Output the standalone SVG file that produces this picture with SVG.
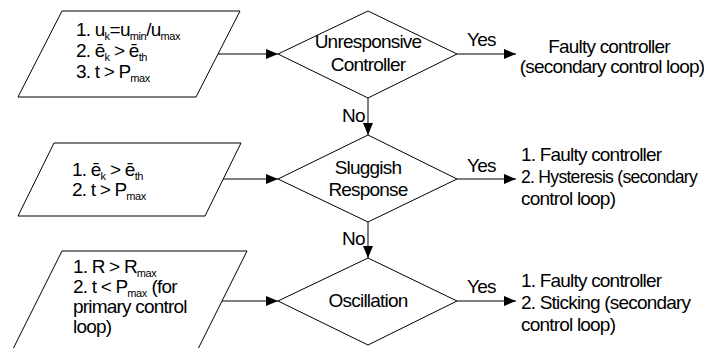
<svg xmlns="http://www.w3.org/2000/svg" width="704" height="348" viewBox="0 0 704 348">
<defs>
<marker id="arr" markerUnits="userSpaceOnUse" markerWidth="12" markerHeight="10" refX="12" refY="5" orient="auto">
<path d="M0,0 L12,5 L0,10 Z" fill="#000"/>
</marker>
<style>
.s{fill:#fff;stroke:#000;stroke-width:1}
.c{fill:none;stroke:#000;stroke-width:1;marker-end:url(#arr)}
text{font-family:"Liberation Sans",Arial,sans-serif;font-size:19px;letter-spacing:-0.8px;fill:#000}
.m{text-anchor:middle}
.sb{font-size:11px;letter-spacing:-0.4px}
</style>
</defs>
<rect width="704" height="348" fill="#fff"/>
<g id="input1">
<path class="s" d="M62,11 H240 L196,97 H18 Z"/>
<text x="76" y="36">1. u<tspan class="sb" dy="4">k</tspan><tspan dy="-4">=u</tspan><tspan class="sb" dy="4">min</tspan><tspan dy="-4">/u</tspan><tspan class="sb" dy="4">max</tspan></text>
<text x="76" y="57">2. ē<tspan class="sb" dy="4">k</tspan><tspan dy="-4"> &gt; ē</tspan><tspan class="sb" dy="4">th</tspan></text>
<text x="76" y="78">3. t &gt; P<tspan class="sb" dy="4">max</tspan></text>
</g>
<g id="input2">
<path class="s" d="M54,143 H241 L205,216 H18 Z"/>
<text x="72" y="176">1. ē<tspan class="sb" dy="4">k</tspan><tspan dy="-4"> &gt; ē</tspan><tspan class="sb" dy="4">th</tspan></text>
<text x="72" y="196">2. t &gt; P<tspan class="sb" dy="4">max</tspan></text>
</g>
<g id="input3">
<path class="s" d="M62,251 H247 L192,361 H7 Z"/>
<text x="73" y="273">1. R &gt; R<tspan class="sb" dy="4">max</tspan></text>
<text x="73" y="293">2. t &lt; P<tspan class="sb" dy="4">max</tspan><tspan dy="-4"> (for</tspan></text>
<text x="73" y="313">primary control</text>
<text x="73" y="333">loop)</text>
</g>
<g id="dec1">
<path class="s" d="M278,54 L368,11 L457,54 L368,98 Z"/>
<text class="m" x="368" y="48">Unresponsive</text>
<text class="m" x="368" y="71">Controller</text>
</g>
<g id="dec2">
<path class="s" d="M278,179 L368,135 L457,179 L368,222 Z"/>
<text class="m" x="368" y="174">Sluggish</text>
<text class="m" x="368" y="196">Response</text>
</g>
<g id="dec3">
<path class="s" d="M278,301 L368,258 L457,301 L368,345 Z"/>
<text class="m" x="368" y="307">Oscillation</text>
</g>
<g id="out1">
<text class="m" x="609" y="53">Faulty controller</text>
<text class="m" x="612" y="73">(secondary control loop)</text>
</g>
<g id="out2">
<text x="521" y="161">1. Faulty controller</text>
<text x="521" y="183" textLength="176" lengthAdjust="spacingAndGlyphs">2. Hysteresis (secondary</text>
<text x="521" y="205">control loop)</text>
</g>
<g id="out3">
<text x="521" y="287">1. Faulty controller</text>
<text x="521" y="309">2. Sticking (secondary</text>
<text x="521" y="331">control loop)</text>
</g>
<g id="connectors">
<line class="c" x1="218" y1="54" x2="278" y2="54"/>
<line class="c" x1="223" y1="179" x2="278" y2="179"/>
<line class="c" x1="222" y1="301" x2="278" y2="301"/>
<line class="c" x1="457" y1="54" x2="516" y2="54"/>
<line class="c" x1="457" y1="179" x2="516" y2="179"/>
<line class="c" x1="457" y1="301" x2="516" y2="301"/>
<line class="c" x1="368" y1="98" x2="368" y2="135"/>
<line class="c" x1="368" y1="222" x2="368" y2="258"/>
<text x="467" y="46">Yes</text>
<text x="467" y="172">Yes</text>
<text x="467" y="293">Yes</text>
<text x="342" y="122">No</text>
<text x="342" y="245">No</text>
</g>
</svg>
